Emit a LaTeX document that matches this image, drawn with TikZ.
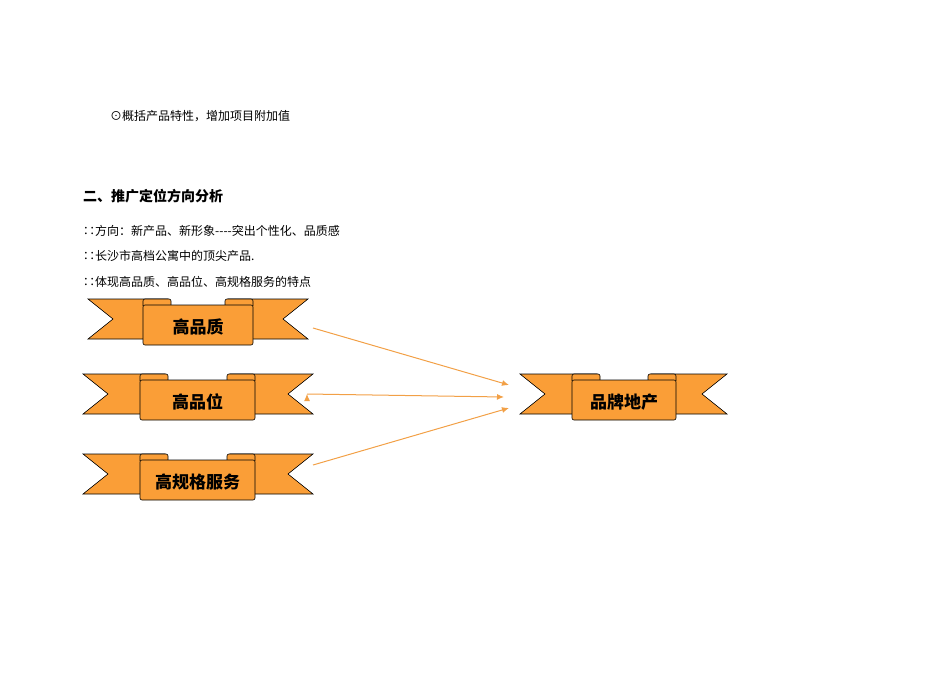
\documentclass[tikz,border=0pt]{standalone}
\usepackage{fontspec}
\setmainfont{Liberation Serif}
\newfontfamily\cjk{Noto Sans CJK SC}
\usetikzlibrary{arrows.meta}
\definecolor{ban}{RGB}{250,158,55}
\definecolor{arr}{RGB}{242,160,70}
\tikzset{
  bpart/.style={fill=ban,draw=black,line width=0.6pt,line join=miter},
  con/.style={draw=arr,line width=1pt,-{Latex[length=7pt,width=6pt]}},
  txt/.style={anchor=west,inner sep=0pt,font=\cjk\fontsize{12}{14}\selectfont},
  btxt/.style={inner sep=0pt,font=\cjk\bfseries\fontsize{17}{19}\selectfont}
}
% #1 L, #2 R, #3 top, #4 bottom, #5 boxL, #6 boxR, #7 text, #8 name
\newcommand{\mybanner}[8]{%
  \pgfmathsetmacro{\mid}{(#3+#4)/2}%
  \draw[bpart] (#1,#3) -- (#5+25,#3) -- (#5+25,#4) -- (#1,#4) -- (#1+25,\mid) -- cycle;
  \draw[bpart] (#2,#3) -- (#6-25,#3) -- (#6-25,#4) -- (#2,#4) -- (#2-25,\mid) -- cycle;
  \draw[bpart,rounded corners=2pt] (#5,#3+7) -- (#5,#3) -- (#5+28,#3) -- (#5+28,#3+7);
  \draw[bpart,rounded corners=2pt] (#6,#3+7) -- (#6,#3) -- (#6-28,#3) -- (#6-28,#3+7);
  \draw[bpart,rounded corners=2pt] (#5,#3+6) -- (#6,#3+6) -- (#6,#4+6) -- (#5,#4+6) -- cycle;
  \node[btxt] (#8) at ({(#5+#6)/2},{(#3+#4)/2+8}) {#7};
  \coordinate (#8-r) at (#2+5,\mid);
  \coordinate (#8-l) at (#1-12,\mid);
}
\begin{document}
\begin{tikzpicture}[x=1pt,y=-1pt]
\useasboundingbox (0,0) rectangle (950,672);
\node[txt] (t0) at (110,116) {⊙概括产品特性，增加项目附加值};
\node[txt,font=\cjk\bfseries\fontsize{14}{16}\selectfont] (t1) at (83,196) {二、推广定位方向分析};
\node[txt] (t2) at (83,231) {∷方向：新产品、新形象----突出个性化、品质感};
\node[txt] (t3) at (83,256) {∷长沙市高档公寓中的顶尖产品.};
\node[txt] (t4) at (83,282) {∷体现高品质、高品位、高规格服务的特点};
\mybanner{88}{308}{299}{339}{143}{253}{高品质}{b1}
\mybanner{83}{313}{374}{414}{140}{255}{高品位}{b2}
\mybanner{83}{313}{454}{494}{140}{255}{高规格服务}{b3}
\mybanner{520}{727}{374}{414}{572}{676}{品牌地产}{b4}
\coordinate (e1) at (509,385);
\coordinate (e2) at (504,397);
\coordinate (e3) at (509,408);
\draw[con] (313,328) coordinate (s1) -- (e1);
\draw[con] (b2-r) ++(-11,-0) coordinate (s2);
\draw[con] (s2) -- (e2);
\draw[con] (313,465) coordinate (s3) -- (e3);
\end{tikzpicture}
\end{document}
